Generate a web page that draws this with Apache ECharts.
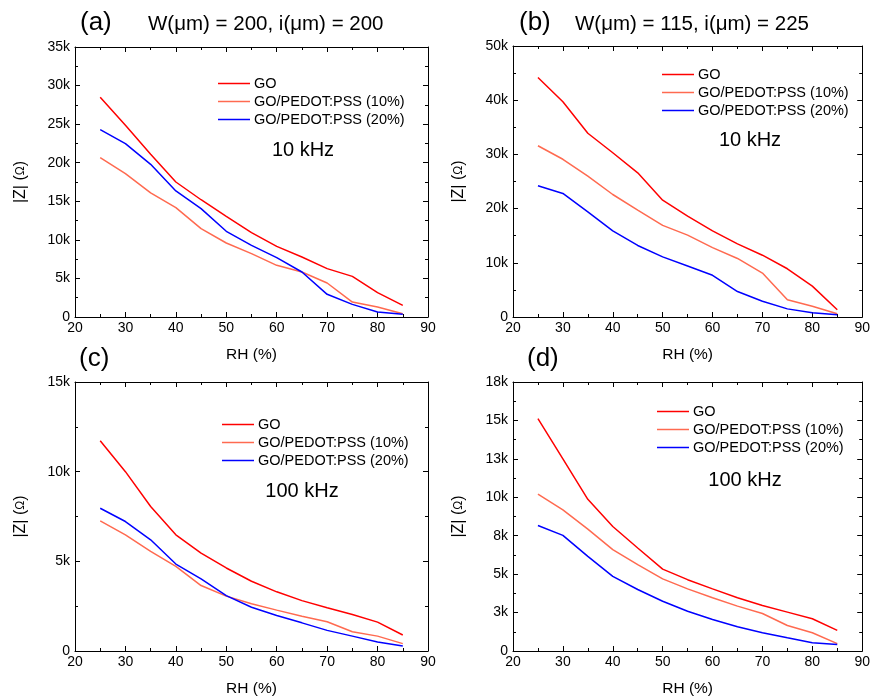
<!DOCTYPE html>
<html><head><meta charset="utf-8">
<script src="https://cdn.jsdelivr.net/npm/echarts@6/dist/echarts.min.js"></script>
<style>html,body{margin:0;padding:0;background:#fff}#c{width:873px;height:698px}</style>
</head><body><div id="c"></div>
<script>
const rh = [25,30,35,40,45,50,55,60,65,70,75,80,85];
const seriesNames = ['GO','GO/PEDOT:PSS (10%)','GO/PEDOT:PSS (20%)'];
// Panel (a) 10 kHz, W=200, i=200
const aGO  = [28500,24850,21100,17500,15200,13050,10930,9160,7780,6270,5270,3150,1510];
const a10  = [20660,18580,16080,14170,11450,9590,8210,6700,5830,4410,1940,1300,430];
const a20  = [24290,22470,19790,16340,14050,11110,9290,7690,5830,2940,1640,650,350];
// Panel (b) 10 kHz, W=115, i=225
const bGO  = [44200,39700,33900,30300,26600,21550,18600,15900,13500,11400,8900,5700,1350];
const b10  = [31600,29100,26000,22600,19700,16900,15100,12800,10800,8100,3200,2000,600];
const b20  = [24200,22800,19400,15900,13200,11100,9400,7700,4700,2900,1500,800,400];
// Panel (c) 100 kHz, W=200, i=200
const cGO  = [11720,10000,8060,6480,5460,4630,3890,3300,2810,2410,2040,1610,890];
const c10  = [7260,6480,5560,4720,3650,3060,2630,2280,1940,1630,1070,830,410];
const c20  = [7960,7220,6200,4850,4020,3090,2440,1980,1570,1150,830,500,280];
// Panel (d) 100 kHz, W=115, i=225
const dGO  = [15120,12500,9870,8100,6700,5330,4640,4040,3460,2960,2530,2100,1340];
const d10  = [10200,9180,7930,6590,5620,4690,4040,3460,2920,2440,1660,1190,480];
const d20  = [8160,7520,6160,4860,4000,3240,2590,2050,1580,1190,860,540,430];

const panelLabels = ['(a)','(b)','(c)','(d)'];
const panelTitles = ['W(\u03bcm) = 200, i(\u03bcm) = 200','W(\u03bcm) = 115, i(\u03bcm) = 225','',''];
const freqLabels = ['10 kHz','10 kHz','100 kHz','100 kHz'];
const xTicks = {min:20, max:90, interval:10};
const yMax = [35000, 50000, 15000, 17500];
const yInterval = [5000, 10000, 5000, 2500];
const panelData = [[aGO,a10,a20],[bGO,b10,b20],[cGO,c10,c20],[dGO,d10,d20]];

const colors = ['#ff0000','#ff6a50','#0000ff'];
const FF = 'Arial, "Liberation Sans", sans-serif';
const grids = [
  {left:75, top:47, width:353, height:270},
  {left:513, top:46, width:353, height:271},
  {left:75, top:382, width:353, height:270},
  {left:513, top:382, width:353, height:270}
];
const titlePos = [
  {lab:[80,10], t:[148,14], f:[303,150], leg:[218,76]},
  {lab:[519,10], t:[575,14], f:[750,140], leg:[662,67]},
  {lab:[79,346], t:[0,0], f:[302,491], leg:[222,417]},
  {lab:[527,346], t:[0,0], f:[745,480], leg:[657,404]}
];

const xAxis=[], yAxis=[], series=[], title=[], legend=[];
function yFmt(v){ return v===0 ? '0' : Math.round(v/1000)+'k'; }
grids.forEach((g,i)=>{
  const common = {gridIndex:i, type:'value', axisLine:{show:true,onZero:false,lineStyle:{color:'#000',width:1}},
    axisTick:{show:true,inside:true,length:5,lineStyle:{color:'#000'}},
    minorTick:{show:true,splitNumber:2,length:3,lineStyle:{color:'#000'}},
    splitLine:{show:false}};
  xAxis.push(Object.assign({}, common, {position:'bottom', min:xTicks.min, max:xTicks.max, interval:xTicks.interval,
    name:'RH (%)', nameLocation:'middle', nameGap:30, nameTextStyle:{fontFamily:FF,fontSize:15.5,color:'#000'},
    axisLabel:{fontFamily:FF,fontSize:14,color:'#000',margin:4}}));
  xAxis.push(Object.assign({}, common, {position:'top', min:xTicks.min, max:xTicks.max, interval:xTicks.interval,
    axisLabel:{show:false}}));
  yAxis.push(Object.assign({}, common, {position:'left', min:0, max:yMax[i], interval:yInterval[i],
    name:'|Z| ({s|\u03a9})', nameLocation:'middle', nameGap:46,
    nameTextStyle:{fontFamily:FF,fontSize:16,color:'#000',rich:{s:{fontFamily:FF,fontSize:12,color:'#000'}}},
    axisLabel:{fontFamily:FF,fontSize:14,color:'#000',margin:5,formatter:yFmt}}));
  yAxis.push(Object.assign({}, common, {position:'right', min:0, max:yMax[i], interval:yInterval[i],
    axisLabel:{show:false}}));
  panelData[i].forEach((vals,k)=>{
    series.push({type:'line', name:seriesNames[k], xAxisIndex:2*i, yAxisIndex:2*i,
      data: rh.map((x,j)=>[x, vals[j]]), showSymbol:false, symbol:'none',
      lineStyle:{color:colors[k], width:1.5}, itemStyle:{color:colors[k]}, animation:false});
  });
  const p = titlePos[i];
  title.push({text:panelLabels[i], left:p.lab[0], top:p.lab[1], padding:0, textStyle:{fontFamily:FF,fontSize:26,fontWeight:'normal',color:'#000'}});
  if (panelTitles[i]) title.push({text:panelTitles[i], left:p.t[0], top:p.t[1], padding:0, textStyle:{fontFamily:FF,fontSize:20.5,fontWeight:'normal',color:'#000'}});
  title.push({text:freqLabels[i], left:p.f[0], top:p.f[1], padding:0, textAlign:'center', textVerticalAlign:'middle',
    textStyle:{fontFamily:FF,fontSize:20,fontWeight:'normal',color:'#000'}});
  legend.push({left:p.leg[0], top:p.leg[1], padding:0, orient:'vertical', itemGap:3, itemWidth:32, itemHeight:15,
    data: seriesNames.map((n,k)=>({name:n, icon:'path://M0,7 L32,7 L32,8.5 L0,8.5 Z', itemStyle:{color:colors[k]}})),
    textStyle:{fontFamily:FF,fontSize:14.5,color:'#000',padding:[0,0,0,-1]}, selectedMode:false});
});

const chart = echarts.init(document.getElementById('c'), null, {renderer:'canvas'});
chart.setOption({animation:false, backgroundColor:'#fff', title, legend, grid:grids, xAxis, yAxis, series});
</script></body></html>
